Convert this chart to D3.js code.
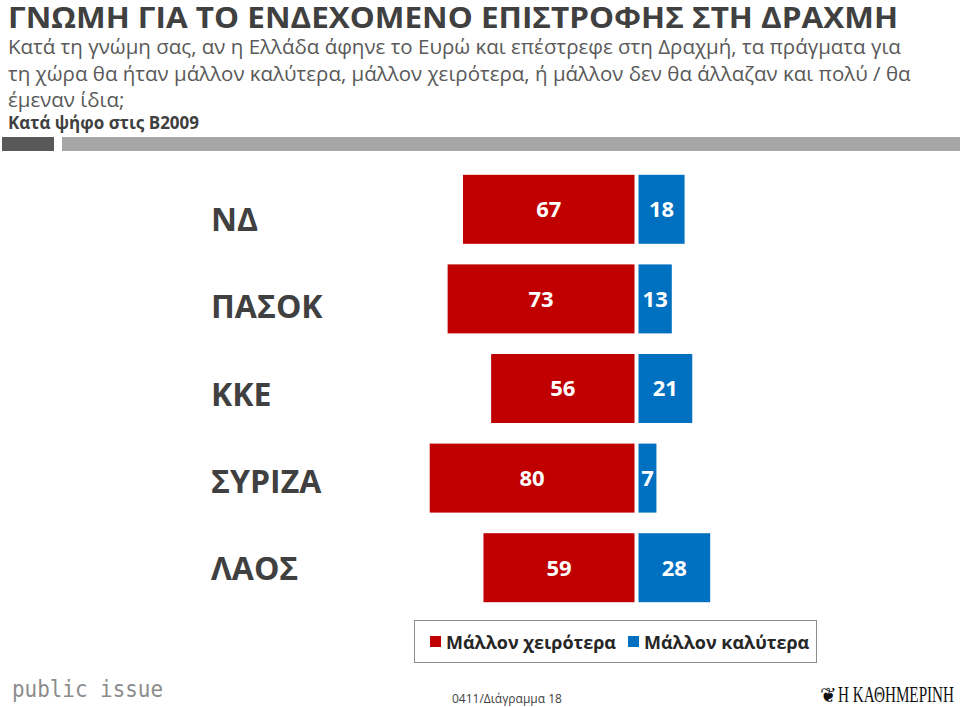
<!DOCTYPE html>
<html>
<head>
<meta charset="utf-8">
<script src="https://cdn.jsdelivr.net/npm/d3@7"></script>
<style>
	body{ margin:0; background:white; }
	svg{ display:block; }
	text{ font-family: "Liberation Sans Narrow", "Open Sans", sans-serif; }
</style>
</head>
<body>
<svg width="960" height="707"></svg>
<script>
	var parties = ["ΝΔ","ΠΑΣΟΚ","ΚΚΕ","ΣΥΡΙΖΑ","ΛΑΟΣ"];
	var worse = [67,73,56,80,59];
	var better = [18,13,21,7,28];
	var seriesNames = ["Μάλλον χειρότερα","Μάλλον καλύτερα"];
	var seriesColors = ["#c00000","#0070c0"];

	var title = "ΓΝΩΜΗ ΓΙΑ ΤΟ ΕΝΔΕΧΟΜΕΝΟ ΕΠΙΣΤΡΟΦΗΣ ΣΤΗ ΔΡΑΧΜΗ";
	var question = ["Κατά τη γνώμη σας, αν η Ελλάδα άφηνε το Ευρώ και επέστρεφε στη Δραχμή, τα πράγματα για",
		"τη χώρα θα ήταν μάλλον καλύτερα, μάλλον χειρότερα, ή μάλλον δεν θα άλλαζαν και πολύ / θα",
		"έμεναν ίδια;"];
	var subTitle = "Κατά ψήφο στις Β2009";

	var svg = d3.select("svg");

	// header
	svg.append("text")
		.attr("x",8).attr("y",28)
		.style("font-size","29px").style("font-weight","bold")
		.attr("textLength",890).attr("lengthAdjust","spacingAndGlyphs")
		.attr("fill","#404040")
		.text(title);

	svg.selectAll("text.q").data(question).enter().append("text")
		.attr("class","q")
		.attr("x",8).attr("y",function(d,i){ return 54 + i*26.5; })
		.style("font-size","20.5px")
		.attr("fill","#595959")
		.text(function(d){ return d; });

	svg.append("text")
		.attr("x",8).attr("y",129)
		.style("font-size","17px").style("font-weight","bold")
		.attr("fill","#404040")
		.text(subTitle);

	svg.append("rect").attr("x",2).attr("y",137).attr("width",52).attr("height",14).attr("fill","#595959");
	svg.append("rect").attr("x",62).attr("y",137).attr("width",898).attr("height",14).attr("fill","#a6a6a6");

	// scales
	var y = d3.scaleBand().domain(parties).range([164.5,612.5]).paddingInner(0.23).paddingOuter(0.115);
	var yLab = d3.scalePoint().domain(parties).range([231,580]);
	var k = 2.56;
	var xWorse = d3.scaleLinear().domain([0,100]).range([634.5,634.5 - 100*k]);
	var xBetter = d3.scaleLinear().domain([0,100]).range([638.5,638.5 + 100*k]);

	var rows = parties.map(function(p,i){ return {party:p, worse:worse[i], better:better[i]}; });

	var g = svg.append("g");

	g.selectAll("rect.w").data(rows).enter().append("rect")
		.attr("class","w")
		.attr("x",function(d){ return xWorse(d.worse); })
		.attr("y",function(d){ return y(d.party); })
		.attr("width",function(d){ return xWorse(0) - xWorse(d.worse); })
		.attr("height",y.bandwidth())
		.attr("fill",seriesColors[0]);

	g.selectAll("rect.b").data(rows).enter().append("rect")
		.attr("class","b")
		.attr("x",xBetter(0))
		.attr("y",function(d){ return y(d.party); })
		.attr("width",function(d){ return xBetter(d.better) - xBetter(0); })
		.attr("height",y.bandwidth())
		.attr("fill",seriesColors[1]);

	g.selectAll("text.wl").data(rows).enter().append("text")
		.attr("class","wl")
		.attr("x",function(d){ return (xWorse(d.worse) + xWorse(0))/2; })
		.attr("y",function(d){ return y(d.party) + y.bandwidth()/2; })
		.attr("dy","0.36em")
		.attr("text-anchor","middle")
		.style("font-family","'Open Sans', sans-serif")
		.style("font-size","22px").style("font-weight","bold")
		.attr("fill","white")
		.text(function(d){ return d.worse; });

	g.selectAll("text.bl").data(rows).enter().append("text")
		.attr("class","bl")
		.attr("x",function(d){ return (xBetter(d.better) + xBetter(0))/2; })
		.attr("y",function(d){ return y(d.party) + y.bandwidth()/2; })
		.attr("dy","0.36em")
		.attr("text-anchor","middle")
		.style("font-family","'Open Sans', sans-serif")
		.style("font-size","22px").style("font-weight","bold")
		.attr("fill","white")
		.text(function(d){ return d.better; });

	g.selectAll("text.cat").data(parties).enter().append("text")
		.attr("class","cat")
		.attr("x",211)
		.attr("y",function(d){ return yLab(d); })
		.style("font-family","'Open Sans', sans-serif")
		.style("font-size","32px").style("font-weight","bold")
		.attr("fill","#404040")
		.text(function(d){ return d; });

	// legend
	svg.append("rect").attr("x",414.5).attr("y",620.5).attr("width",402).attr("height",42)
		.attr("fill","white").attr("stroke","#8c8c8c");
	var lx = [430,628];
	var leg = svg.selectAll("g.leg").data(seriesNames).enter().append("g")
		.attr("class","leg")
		.attr("transform",function(d,i){ return "translate(" + lx[i] + ",0)"; });
	leg.append("rect").attr("x",0).attr("y",636).attr("width",11).attr("height",11)
		.attr("fill",function(d,i){ return seriesColors[i]; });
	leg.append("text").attr("x",16).attr("y",649)
		.style("font-family","'Open Sans', sans-serif")
		.style("font-size","18px").style("font-weight","bold")
		.attr("fill","#262626")
		.text(function(d){ return d; });

	// footer
	svg.append("text").attr("x",12).attr("y",697)
		.style("font-family","'DejaVu Sans Mono', monospace")
		.style("font-size","23px")
		.attr("textLength",151).attr("lengthAdjust","spacingAndGlyphs")
		.attr("fill","#8c8c8c")
		.text("public issue");
	svg.append("text").attr("x",452).attr("y",703)
		.style("font-family","'Open Sans', sans-serif")
		.style("font-size","12px")
		.attr("fill","#404040")
		.text("0411/Διάγραμμα 18");
	svg.append("text").attr("x",838).attr("y",702)
		.style("font-family","'Liberation Serif', serif")
		.style("font-size","24px")
		.attr("textLength",116).attr("lengthAdjust","spacingAndGlyphs")
		.attr("fill","#111")
		.text("Η ΚΑΘΗΜΕΡΙΝΗ");
	svg.append("text").attr("x",820).attr("y",702)
		.style("font-family","'DejaVu Sans', sans-serif")
		.style("font-size","20px")
		.attr("fill","#111")
		.text("❦");
</script>
</body>
</html>
